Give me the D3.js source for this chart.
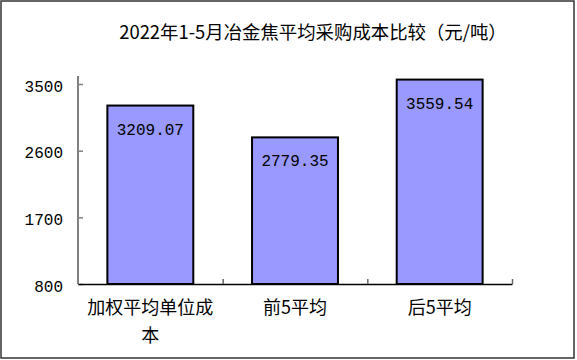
<!DOCTYPE html>
<html>
<head>
<meta charset="utf-8">
<script src="https://cdn.jsdelivr.net/npm/d3@7"></script>
<style>
  html, body { margin: 0; padding: 0; background: #fff; }
  svg { display: block; }
</style>
</head>
<body>
<svg id="chart" width="577" height="360"></svg>
<script>
const title = '2022年1-5月冶金焦平均采购成本比较（元/吨）';
const categories = ['加权平均单位成本', '前5平均', '后5平均'];
const values = [3209.07, 2779.35, 3559.54];
const yTicks = [800, 1700, 2600, 3500];

const svg = d3.select('#chart');
const cjk = '"Noto Sans CJK SC", "Noto Sans", sans-serif';
const num = '"Liberation Mono", "DejaVu Sans Mono", monospace';

const margin = { top: 84, right: 65, bottom: 76, left: 78 };
const width = 577 - margin.left - margin.right;
const height = 360 - margin.top - margin.bottom;

// outer frame
svg.append('rect')
  .attr('x', 1).attr('y', 1)
  .attr('width', 573).attr('height', 357)
  .attr('fill', '#fff')
  .attr('stroke', '#333')
  .attr('stroke-width', 1.5);

svg.append('text')
  .attr('x', 313).attr('y', 39)
  .attr('text-anchor', 'middle')
  .style('font-family', cjk)
  .style('font-size', '18.4px')
  .attr('fill', '#000')
  .text(title);

const g = svg.append('g').attr('transform', `translate(${margin.left},${margin.top})`);

const x = d3.scaleBand()
  .domain(categories)
  .range([0, width])
  .paddingInner(0.406)
  .paddingOuter(0.203);

const y = d3.scaleLinear()
  .domain([800, 3500])
  .range([height, 0]);

// category edges for the x tick marks
const xEdge = d3.scaleLinear().domain([0, categories.length]).range([0, width]);

// y axis
const yAxis = g.append('g')
  .call(d3.axisLeft(y).tickValues(yTicks).tickFormat(d3.format('d'))
    .tickSize(-5).tickSizeOuter(0).tickPadding(15));
yAxis.select('.domain').remove();
yAxis.selectAll('.tick line').attr('stroke', '#808080').attr('stroke-width', 1.5);
yAxis.selectAll('.tick text')
  .attr('dy', '0.45em')
  .style('font-family', num)
  .style('font-size', '16px')
  .attr('fill', '#000');
g.append('line')
  .attr('x1', 0).attr('x2', 0)
  .attr('y1', y(800)).attr('y2', y(3500) - 8)
  .attr('stroke', '#808080')
  .attr('stroke-width', 2);

// bars
g.selectAll('.bar')
  .data(values)
  .enter().append('rect')
  .attr('class', 'bar')
  .attr('x', (d, i) => x(categories[i]))
  .attr('y', d => y(d))
  .attr('width', x.bandwidth())
  .attr('height', d => height - y(d))
  .attr('fill', '#9999FF')
  .attr('stroke', '#000')
  .attr('stroke-width', 2);

g.selectAll('.val')
  .data(values)
  .enter().append('text')
  .attr('class', 'val')
  .attr('x', (d, i) => x(categories[i]) + x.bandwidth() / 2)
  .attr('y', d => y(d) + 29)
  .attr('text-anchor', 'middle')
  .style('font-family', num)
  .style('font-size', '16px')
  .attr('fill', '#000')
  .text(d => d.toFixed(2));

// x axis: baseline + edge ticks
const xTickAxis = g.append('g')
  .attr('transform', `translate(0,${height})`)
  .call(d3.axisBottom(xEdge).tickValues(d3.range(1, categories.length + 1)).tickSize(-5).tickSizeOuter(0).tickFormat(''));
xTickAxis.select('.domain').attr('stroke', '#000').attr('stroke-width', 1.5);
xTickAxis.selectAll('.tick line').attr('stroke', '#666').attr('stroke-width', 1.5);

// category labels
const xAxis = g.append('g')
  .attr('transform', `translate(0,${height})`)
  .call(d3.axisBottom(x).tickSize(0).tickPadding(0));
xAxis.select('.domain').remove();
xAxis.selectAll('.tick text')
  .style('font-family', cjk)
  .style('font-size', '18px')
  .attr('fill', '#000')
  .attr('y', 0)
  .attr('dy', null)
  .each(function (d) {
    const t = d3.select(this);
    const chars = Array.from(d);
    const maxW = x.step() - 10;
    const lines = [];
    let cur = '';
    t.text('');
    const probe = t.append('tspan');
    chars.forEach(c => {
      probe.text(cur + c);
      if (probe.node().getComputedTextLength() > maxW && cur) {
        lines.push(cur);
        cur = c;
      } else {
        cur += c;
      }
    });
    lines.push(cur);
    probe.remove();
    lines.forEach((ln, i) => {
      t.append('tspan')
        .attr('x', 0)
        .attr('y', 30 + i * 27.5)
        .text(ln);
    });
  });
</script>
</body>
</html>
